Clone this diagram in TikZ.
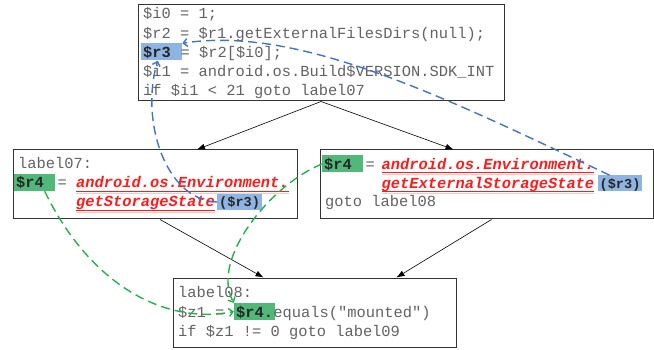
\documentclass[tikz,border=0pt]{standalone}
\usepackage{fontspec}
\setmonofont{Liberation Mono}
\usetikzlibrary{arrows.meta}

\definecolor{codegray}{RGB}{98,98,98}
\definecolor{hlblue}{RGB}{141,180,226}
\definecolor{hlgreen}{RGB}{80,184,120}
\definecolor{apired}{RGB}{255,28,28}
\definecolor{flowblue}{RGB}{68,114,196}
\definecolor{flowgreen}{RGB}{34,177,76}

\tikzset{ blk/.style = { rectangle % basic block
        , draw = black!80
        , line width = 1pt
        , inner sep = 0pt
        }
        , code/.style = { anchor = base west % jimple text
        , inner sep = 0pt
        , text = codegray
        , font = \ttfamily\fontsize{15.4}{19}\selectfont
        }
        , api/.style = { code % source call
        , text = apired
        , font = \ttfamily\bfseries\itshape\fontsize{15.4}{19}\selectfont
        }
        , hl/.style = { code % tracked variable
        , fill = #1
        , inner xsep = 2pt
        , inner ysep = 2pt
        , text height = 12pt
        , text depth = 1pt
        , text = black!85
        , font = \ttfamily\bfseries\fontsize{15.4}{19}\selectfont
        }
        , hl_small/.style = { hl = #1 % argument
        , text height = 11pt
        , font = \ttfamily\bfseries\fontsize{13.6}{16}\selectfont
        }
        }

\begin{document}
\begin{tikzpicture}[x=1pt, y=1pt,
        edge_style/.style={draw=black, line width=0.6pt, -{Latex[length=8pt,width=6pt]}},
        use_style/.style={line width=1.4pt, dash pattern=on 9pt off 5pt, -{Straight Barb[length=4pt,width=8pt]}},
        uline_style/.style={draw=apired, line width=0.6pt},
        uline2_style/.style={draw=apired!25, line width=0.6pt}]
        \useasboundingbox (0,0) rectangle (654,-350);

        % blocks
        \node [blk, minimum width=366pt, minimum height=96pt] (b0) at (321,-53) {};
        \node [blk, minimum width=284pt, minimum height=69pt] (b1) at (155,-184.5) {};
        \node [blk, minimum width=333pt, minimum height=69pt] (b2) at (486.5,-184.5) {};
        \node [blk, minimum width=283pt, minimum height=69pt] (b3) at (314.5,-312.5) {};

        % entry block
        \node [code] (t1) at (143,-19) {\$i0 = 1;};
        \node [code] (t2) at (143,-38.3) {\$r2 = \$r1.getExternalFilesDirs(null);};
        \node [hl=hlblue] (r3def) at (141,-57.5) {\$r3\hphantom{0}};
        \node [code] (t3) at ([xshift=-2pt]r3def.base east) {= \$r2[\$i0];};
        \node [code] (t4) at (143,-76.7) {\$i1 = android.os.Build\$VERSION.SDK\_INT};
        \node [code] (t5) at (143,-95.5) {if \$i1 < 21 goto label07};

        % label07
        \node [code] (u1) at (18,-169) {label07:};
        \node [hl=hlgreen] (r4a) at (14,-188) {\$r4\hphantom{0}};
        \node [code] (u2) at ([xshift=2pt]r4a.base east) {=};
        \node [api] (env1) at (76,-188) {android.os.Environment.};
        \node [api] (env2) at (76,-207) {getStorageState};
        \node [hl_small=hlblue] (r3use1) at ([xshift=2pt]env2.base east) {(\$r3)};

        % fall-through block
        \node [hl=hlgreen] (r4b) at (322,-169.5) {\$r4\hphantom{0}};
        \node [code] (v1) at ([xshift=2pt]r4b.base east) {=};
        \node [api] (env3) at (381.5,-169.5) {android.os.Environment.};
        \node [api] (env4) at (381.5,-188.3) {getExternalStorageState};
        \node [hl_small=hlblue] (r3use2) at ([xshift=3pt]env4.base east) {(\$r3)};
        \node [code] (v3) at (325,-206.7) {goto label08};

        % label08
        \node [code] (w1) at (178,-298) {label08:};
        \node [code] (w2) at (178,-317) {\$z1 =\hphantom{0}};
        \node [hl=hlgreen] (r4use) at (w2.base east) {\$r4.};
        \node [code] (w3) at ([xshift=-2pt]r4use.base east) {equals("mounted")};
        \node [code] (w4) at (178,-336) {if \$z1 != 0 goto label09};

        \foreach \n in {env1,env2,env3,env4} {
            \draw [uline_style] ([yshift=-3.2pt]\n.base west) -- ([yshift=-3.2pt]\n.base east);
            \draw [uline2_style] ([yshift=-5.2pt]\n.base west) -- ([yshift=-5.2pt]\n.base east);
        }

        % control flow
        \draw [edge_style] (b0.south) -- ([xshift=42pt]b1.north);
        \draw [edge_style] (b0.south) -- ([xshift=-33pt]b2.north);
        \draw [edge_style] ([xshift=5pt]b1.south) -- ([xshift=-51pt]b3.north);
        \draw [edge_style] ([xshift=5pt]b2.south) -- ([xshift=82pt]b3.north);

        % def-use of $r3
        \draw [use_style, flowblue] ([xshift=12pt]r3use2.north west) .. controls (450,-100) and (300,-25) .. (r3def.north east);
        \draw [use_style, flowblue] (r3use1.west) .. controls (165,-200) and (140,-120) .. ([xshift=-4pt]r3def.south);

        % def-use of $r4
        \draw [use_style, flowgreen] ([xshift=10pt]r4a.south) .. controls (90,-285) and (165,-325) .. (r4use.west);
        \draw [use_style, flowgreen] (r4b.west) .. controls (270,-185) and (210,-260) .. (r4use.north west);
\end{tikzpicture}
\end{document}
